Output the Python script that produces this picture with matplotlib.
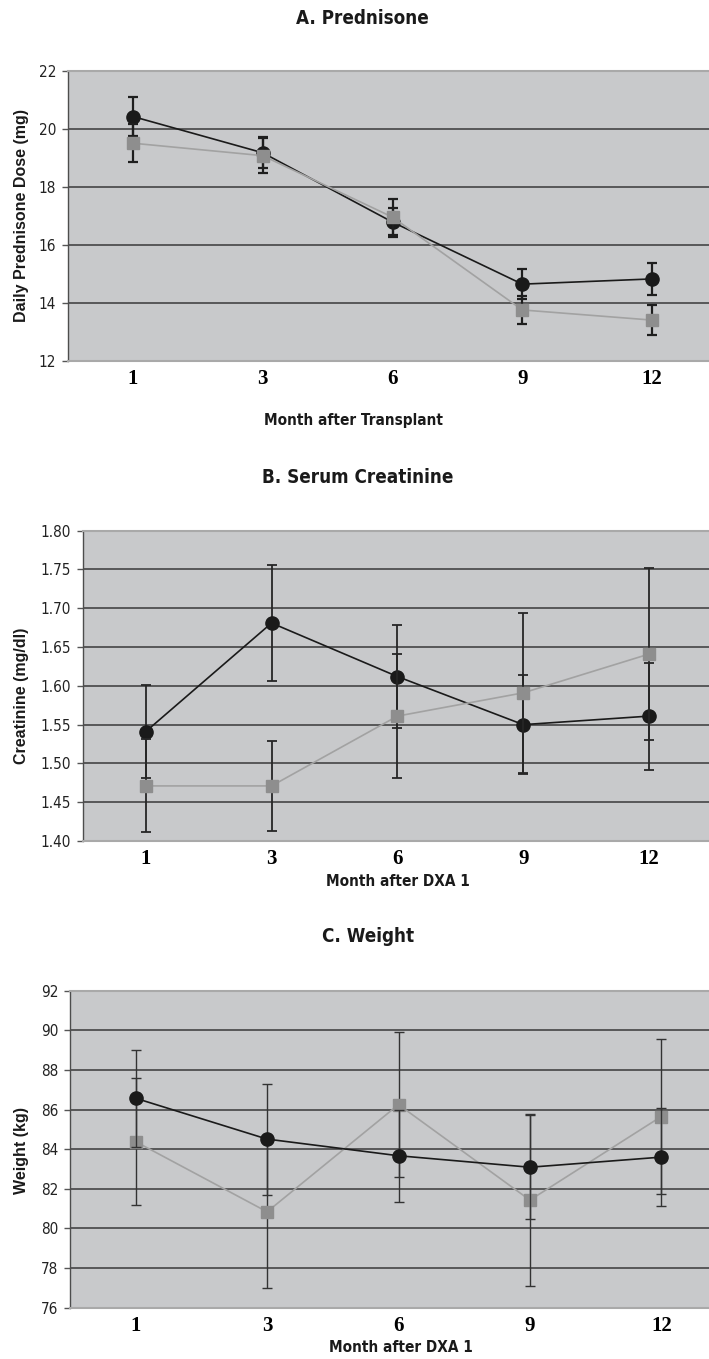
import matplotlib
matplotlib.use('Agg')
import matplotlib.pyplot as plt
from matplotlib.ticker import MultipleLocator, FormatStrFormatter

months = ['1', '3', '6', '9', '12']

# A. Prednisone dose (mg)
pred_black = [20.42, 19.17, 16.78, 14.64, 14.82]
pred_black_err = [0.68, 0.53, 0.50, 0.51, 0.56]
pred_gray = [19.50, 19.07, 16.95, 13.75, 13.40]
pred_gray_err = [0.65, 0.61, 0.62, 0.49, 0.51]

# B. Serum creatinine (mg/dl)
creat_black = [1.541, 1.681, 1.612, 1.550, 1.561]
creat_black_err = [0.060, 0.075, 0.066, 0.064, 0.069]
creat_gray = [1.471, 1.471, 1.561, 1.591, 1.641]
creat_gray_err = [0.060, 0.058, 0.080, 0.103, 0.111]

# C. Weight (kg)
wt_black = [86.57, 84.51, 83.67, 83.09, 83.60]
wt_black_err = [2.44, 2.80, 2.32, 2.62, 2.46]
wt_gray = [84.38, 80.84, 86.25, 81.43, 85.65]
wt_gray_err = [3.22, 3.86, 3.65, 4.35, 3.90]

W, H = 709, 1359
BG = '#c8c9cb'
BLACK = '#1a1a1a'
GRAY_LINE = '#a2a2a2'
GRAY_MARK = '#8e8e8e'

# condensed sans, close to the Arial Narrow of the original
plt.rcParams['font.family'] = ['DejaVu Sans']
plt.rcParams['font.stretch'] = 'condensed'


def px(x, y):
    return x / W, 1 - y / H


def panel(fig, box, black, black_err, gray, gray_err, ylim, step, fmt,
          ebar_lw, ebar_col, gray_on_top=True):
    left, top, right, bottom = box
    ax = fig.add_axes([left / W, 1 - bottom / H, (right - left) / W, (bottom - top) / H])
    ax.set_facecolor(BG)

    def draw_black(z):
        ax.errorbar(months, black, yerr=black_err, color=BLACK, lw=1.2,
                    marker='o', ms=9.5, mfc=BLACK, mec=BLACK,
                    ecolor=ebar_col, elinewidth=ebar_lw, capsize=3.7,
                    capthick=ebar_lw, zorder=z)

    def draw_gray(z):
        ax.errorbar(months, gray, yerr=gray_err, color=GRAY_LINE, lw=1.2,
                    marker='s', ms=9, mfc=GRAY_MARK, mec=GRAY_MARK,
                    ecolor=ebar_col, elinewidth=ebar_lw, capsize=3.7,
                    capthick=ebar_lw, zorder=z)

    if gray_on_top:
        draw_black(3)
        draw_gray(4)
    else:
        draw_gray(3)
        draw_black(4)

    ax.set_xlim(-0.5, len(months) - 0.5)
    ax.set_ylim(*ylim)
    ax.yaxis.set_major_locator(MultipleLocator(step))
    ax.yaxis.set_major_formatter(FormatStrFormatter(fmt))
    ax.set_axisbelow(True)
    ax.yaxis.grid(True, color='#4f4f4f', lw=1.3)

    ax.set_xticks(range(len(months)), months, family='Liberation Serif',
                  fontweight='bold', size=15, stretch='normal')
    ax.tick_params(axis='x', length=0, pad=6)
    ax.tick_params(axis='y', length=4.5, width=1, color='#555555', pad=4,
                   labelsize=11, labelcolor='#222222')

    for s in ['top', 'bottom', 'right']:
        ax.spines[s].set_color('#a9a9a9')
        ax.spines[s].set_linewidth(1.5)
    ax.spines['left'].set_color('#4d4d4d')
    ax.spines['left'].set_linewidth(1)
    return ax


fig = plt.figure(figsize=(W / 100, H / 100), dpi=100)

panel(fig, (68, 70.7, 717, 360.7), pred_black, pred_black_err, pred_gray,
      pred_gray_err, (12, 22), 2, '%d', 1.6, '#1e1e1e')
panel(fig, (82.8, 530.7, 712, 841), creat_black, creat_black_err, creat_gray,
      creat_gray_err, (1.40, 1.80), 0.05, '%.2f', 1.3, '#262626')
panel(fig, (70, 990.7, 727, 1307.7), wt_black, wt_black_err, wt_gray,
      wt_gray_err, (76, 92), 2, '%d', 1.0, '#333333', gray_on_top=False)

title_kw = dict(ha='center', va='center', fontweight='bold', size=13.5,
                color='#1a1a1a')
fig.text(*px(362, 18), 'A. Prednisone', **title_kw)
fig.text(*px(358, 478), 'B. Serum Creatinine', **title_kw)
fig.text(*px(368, 937), 'C. Weight', **title_kw)

xlab_kw = dict(ha='center', va='center', fontweight='bold', size=11,
               color='#1a1a1a')
fig.text(*px(353, 420), 'Month after Transplant', **xlab_kw)
fig.text(*px(398, 882), 'Month after DXA 1', **xlab_kw)
fig.text(*px(401, 1348), 'Month after DXA 1', **xlab_kw)

ylab_kw = dict(ha='center', va='center', rotation=90, fontweight='bold',
               size=11.5, family='Liberation Sans', stretch='normal',
               color='#1a1a1a')
fig.text(*px(22, 216), 'Daily Prednisone Dose (mg)', **ylab_kw)
fig.text(*px(22, 696), 'Creatinine (mg/dl)', **ylab_kw)
fig.text(*px(22, 1150), 'Weight (kg)', **ylab_kw)

fig.savefig('out.png', dpi=100)
